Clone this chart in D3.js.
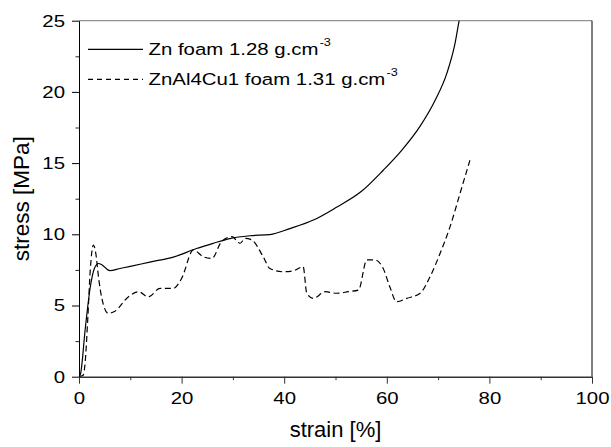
<!DOCTYPE html>
<html>
<head>
<meta charset="utf-8">
<script src="https://cdn.jsdelivr.net/npm/d3@7"></script>
<style>
  body { margin: 0; background: #fff; }
  text { font-family: "Liberation Sans", Arial, sans-serif; fill: #000; }
</style>
</head>
<body>
<script>
// Zn foam 1.28 g.cm-3
const znStrain = [0, 0.3, 1.2, 2.2, 3.0, 3.8, 4.5, 6.0, 8, 10, 13.8, 18.4, 22.9, 26, 29.4, 33.3, 37.2, 41.1, 45.7, 50.2, 55, 59.3, 62.9, 66.5, 69.4, 71.7, 73.3, 74.1, 75];
const znStress = [0, 0.2, 3.3, 6.3, 7.6, 7.95, 7.85, 7.45, 7.6, 7.75, 8.05, 8.4, 9.0, 9.35, 9.7, 9.9, 9.98, 10.4, 11.0, 11.9, 13.0, 14.5, 15.9, 17.6, 19.4, 21.3, 23.4, 25, 26.5];

// ZnAl4Cu1 foam 1.31 g.cm-3
const alStrain = [0, 0.8, 1.2, 1.7, 2.2, 2.8, 3.3, 3.8, 4.4, 5.7, 7, 9.6, 11.6, 13.5, 15.8, 18.4, 20, 22.3, 24.2, 25.9, 27.8, 29.8, 31.4, 32.4, 33.7, 35.9, 37.2, 39.8, 41.8, 43.7, 44.4, 45.7, 48, 50.2, 52.5, 54.5, 56.1, 57.7, 59.3, 60.6, 61.9, 63.9, 66.5, 68.4, 70.4, 72.3, 74.3, 76.2];
const alStress = [0, 0.1, 1.0, 4.0, 7.5, 9.25, 8.6, 7.0, 5.6, 4.45, 4.6, 5.6, 5.97, 5.6, 6.2, 6.2, 6.9, 8.9, 8.43, 8.3, 9.5, 9.83, 9.37, 9.72, 9.6, 8.43, 7.6, 7.37, 7.44, 7.72, 5.86, 5.5, 5.97, 5.86, 5.97, 6.09, 8.2, 8.2, 7.6, 6.3, 5.27, 5.5, 5.86, 7.0, 8.67, 10.5, 12.9, 15.2];

const xTicks = [0, 20, 40, 60, 80, 100];
const yTicks = [0, 5, 10, 15, 20, 25];
const seriesNames = ["Zn foam 1.28 g.cm", "ZnAl4Cu1 foam 1.31 g.cm"];

const margin = {top: 20.7, right: 19, bottom: 70.3, left: 79},
  width = 611 - margin.left - margin.right,
  height = 447 - margin.top - margin.bottom;
const stretch = 1.2; // the glyphs in the picture are a bit wide

const svg = d3.select("body").append("svg")
  .attr("width", 611)
  .attr("height", 447);

const plot = svg.append("g")
  .attr("transform", `translate(${margin.left}, ${margin.top})`);

const scaleX = d3.scaleLinear().domain([0, 100]).range([0, width]);
const scaleY = d3.scaleLinear().domain([0, 25]).range([height, 0]);

svg.append("clipPath").attr("id", "clip")
  .append("rect").attr("width", width).attr("height", height);

// minor ticks
plot.append("g")
  .attr("transform", `translate(0,${height})`)
  .call(d3.axisBottom(scaleX).tickValues(d3.range(10, 100, 20)).tickSize(3.5).tickFormat(""))
  .call(g => g.select(".domain").remove())
  .selectAll("line").attr("stroke", "#333");
plot.append("g")
  .call(d3.axisLeft(scaleY).tickValues(d3.range(2.5, 25, 5)).tickSize(3.5).tickFormat(""))
  .call(g => g.select(".domain").remove())
  .selectAll("line").attr("stroke", "#222");

// frame top/right
plot.append("line").attr("x1", 0).attr("x2", width).attr("y1", 0).attr("y2", 0)
  .attr("stroke", "#777").attr("stroke-width", 1);
plot.append("line").attr("x1", width).attr("x2", width).attr("y1", 0).attr("y2", height)
  .attr("stroke", "#000").attr("stroke-width", 1);

const xAxis = plot.append("g")
  .attr("transform", `translate(0,${height})`)
  .call(d3.axisBottom(scaleX).tickValues(xTicks).tickSize(7).tickPadding(8).tickSizeOuter(0));
xAxis.select(".domain").attr("stroke", "#333").attr("stroke-width", 1.6);
xAxis.selectAll("line").attr("stroke", "#333");
xAxis.selectAll("text")
  .style("font-size", "17px")
  .attr("transform", `scale(${stretch},1)`);

const yAxis = plot.append("g")
  .call(d3.axisLeft(scaleY).tickValues(yTicks).tickSize(7).tickSizeOuter(0));
yAxis.select(".domain").attr("stroke", "#000").attr("stroke-width", 1);
yAxis.selectAll("text")
  .style("font-size", "17px")
  .attr("x", -14 / stretch)
  .attr("transform", `scale(${stretch},1)`);

// curves
const line = d3.line()
  .x(d => scaleX(d[0]))
  .y(d => scaleY(d[1]))
  .curve(d3.curveMonotoneX);

const curves = plot.append("g").attr("clip-path", "url(#clip)");
curves.append("path")
  .datum(d3.zip(znStrain, znStress))
  .attr("fill", "none")
  .attr("stroke", "#000")
  .attr("stroke-width", 1.2)
  .attr("d", line);
curves.append("path")
  .datum(d3.zip(alStrain, alStress))
  .attr("fill", "none")
  .attr("stroke", "#000")
  .attr("stroke-width", 1.2)
  .attr("stroke-dasharray", "6,3.5")
  .attr("d", line);

// axis titles
svg.append("text")
  .attr("x", margin.left + width / 2)
  .attr("y", 437)
  .attr("text-anchor", "middle")
  .style("font-size", "22px")
  .text("strain [%]");
svg.append("text")
  .attr("transform", `translate(29,${margin.top + height / 2}) rotate(-90)`)
  .attr("text-anchor", "middle")
  .style("font-size", "22.5px")
  .text("stress [MPa]");

// legend
const legend = svg.selectAll(".legend")
  .data(seriesNames)
  .enter().append("g")
  .attr("class", "legend")
  .attr("transform", (d, i) => `translate(0,${49.3 + i * 30})`);

legend.append("line")
  .attr("x1", 88).attr("x2", 143)
  .attr("stroke", "#000")
  .attr("stroke-width", 1.2)
  .attr("stroke-dasharray", (d, i) => i ? "5,4" : null);

const lt = legend.append("g")
  .attr("transform", "translate(148.5,5.5)")
  .append("text")
  .attr("transform", `scale(${stretch},1)`)
  .style("font-size", "17px")
  .text(d => d);
lt.append("tspan")
  .attr("dx", 1)
  .attr("dy", -9)
  .style("font-size", "10.5px")
  .text("-3");
</script>
</body>
</html>
